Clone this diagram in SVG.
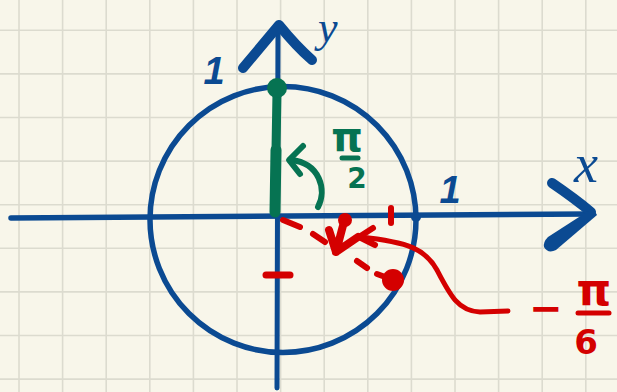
<svg xmlns="http://www.w3.org/2000/svg" width="617" height="392" viewBox="0 0 617 392">
  <defs>
    <style>
      .grid { stroke: #dcdbcf; stroke-width: 1.6; fill: none; }
      .blue { stroke: #0b4a92; fill: none; stroke-linecap: round; stroke-linejoin: round; }
      .green { stroke: #067352; fill: none; stroke-linecap: round; stroke-linejoin: round; }
      .red { stroke: #d40000; fill: none; stroke-linecap: round; stroke-linejoin: round; }
      .lblue { fill: #0b4a92; }
      .lgreen { fill: #067352; font-family: "DejaVu Sans", sans-serif; font-weight: bold; text-anchor: middle; }
      .lred { fill: #d40000; font-family: "DejaVu Sans", sans-serif; font-weight: bold; text-anchor: middle; }
      .one { font-family: "Liberation Sans", Arial, sans-serif; font-weight: bold; font-style: italic; font-size: 38px; text-anchor: middle; }
      .axis { font-family: "Liberation Serif", "Times New Roman", serif; font-style: italic; }
    </style>
  </defs>

  <g id="background">
    <rect x="0" y="0" width="617" height="392" fill="#f8f6ea"/>
    <path class="grid" d="M19,0V392 M62.6,0V392 M106.2,0V392 M149.8,0V392 M193.4,0V392 M237,0V392 M280.6,0V392 M324.2,0V392 M367.8,0V392 M411.4,0V392 M455,0V392 M498.6,0V392 M542.2,0V392 M585.8,0V392
      M0,30.3H617 M0,73.9H617 M0,117.5H617 M0,161.1H617 M0,204.7H617 M0,248.3H617 M0,291.9H617 M0,335.5H617 M0,379.1H617"/>
  </g>

  <g id="circle">
    <circle class="blue" cx="283" cy="219.5" r="133" stroke-width="5.5"/>
    <circle class="lblue" cx="416" cy="217" r="5"/>
  </g>

  <g id="connectors">
    <g id="x-axis">
      <path class="blue" d="M11,218 L588,214" stroke-width="5.5"/>
      <path class="blue" d="M552,183 Q574,198 591,212" stroke-width="10"/>
      <path class="lblue" d="M593,208 L597,215 L556,250 Q548,254 544,247 Q543,242 548,237 Z"/>
    </g>
    <g id="y-axis">
      <path class="blue" d="M277,388 L278,26" stroke-width="5"/>
      <path class="blue" d="M243,68 L279,25 Q296,46 312,60" stroke-width="10"/>
    </g>
    <g id="green-angle">
      <path class="green" d="M277,92 L276,150 L275,212" stroke-width="9"/>
      <path class="green" d="M276,150 L275,212" stroke-width="11"/>
      <circle cx="277" cy="88" r="10" fill="#067352"/>
      <path class="green" d="M318,207 C327,190 320,163 291,160" stroke-width="6"/>
      <path class="green" d="M303,146 L289,160 L300,174" stroke-width="6"/>
    </g>
    <g id="red-angle">
      <path class="red" d="M283,220 L300,227 M313,234 L325,242 M357,261 L367,268 M377,274 L388,278" stroke-width="6"/>
      <path class="red" d="M345,218 L336,252 M329,230 L336,252 L358,237" stroke-width="8"/>
      <circle cx="345" cy="220" r="7" fill="#d40000"/>
      <circle cx="393" cy="280" r="11" fill="#d40000"/>
      <path class="red" d="M391,208 L391,223" stroke-width="6"/>
      <path class="red" d="M266,275 L290,275" stroke-width="7"/>
      <path class="red" d="M508,311 L480,312 C458,311 450,295 437,270 C426,250 410,242 360,237" stroke-width="5"/>
      <path class="red" d="M373,228 L359,237 L375,245" stroke-width="6"/>
    </g>
  </g>

  <g id="labels">
    <text class="lblue one" x="214" y="84">1</text>
    <text class="lblue one" x="450" y="203">1</text>
    <text class="lblue axis" x="574" y="182" font-size="54">x</text>
    <text class="lblue axis" x="318" y="42" font-size="44">y</text>

    <g id="label-pi-2">
      <text class="lgreen" x="347" y="151" font-size="40">π</text>
      <path class="green" d="M342,158 L358,158" stroke-width="5"/>
      <text class="lgreen" x="357" y="188" font-size="28">2</text>
    </g>

    <g id="label-minus-pi-6">
      <text class="lred" x="546" y="322" font-size="40">−</text>
      <text class="lred" x="594" y="305" font-size="44">π</text>
      <path class="red" d="M578,313 L609,313" stroke-width="5"/>
      <text class="lred" x="586" y="354" font-size="34">6</text>
    </g>
  </g>
</svg>
